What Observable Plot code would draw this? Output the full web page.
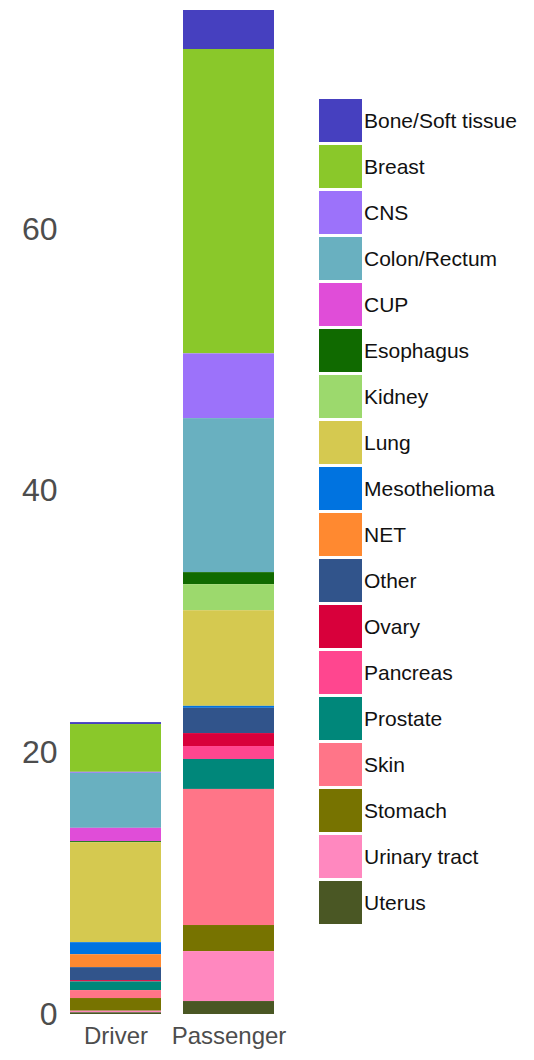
<!DOCTYPE html>
<html>
<head>
<meta charset="utf-8">
<script src="https://cdn.jsdelivr.net/npm/d3@7"></script>
<script src="https://cdn.jsdelivr.net/npm/@observablehq/plot@0.6"></script>
<style>
  html, body { margin: 0; padding: 0; background: #fff; }
  #wrap { position: relative; width: 534px; height: 1060px; font-family: "Liberation Sans", Arial, sans-serif; }
  #legend { position: absolute; left: 319px; top: 99px; }
  .row { display: flex; align-items: center; height: 43px; margin-bottom: 3px; }
  .sw { width: 43px; height: 43px; flex: none; }
  .lab { margin-left: 2px; font-size: 21px; color: #111; white-space: nowrap; }
</style>
</head>
<body>
<div id="wrap"><div id="chart"></div><div id="legend"></div></div>
<script>
const categories = ["Bone/Soft tissue","Breast","CNS","Colon/Rectum","CUP","Esophagus","Kidney","Lung","Mesothelioma","NET","Other","Ovary","Pancreas","Prostate","Skin","Stomach","Urinary tract","Uterus"];
const colors = ["#4640BF","#8AC82A","#9C72FA","#69B0C0","#E04DD8","#106A00","#9CD96D","#D5C950","#0073E0","#FF8930","#31548B","#D8003B","#FF468F","#00877A","#FF7588","#777300","#FF88BF","#4A5724"];
const groups = ["Driver","Passenger"];
const driverValues =    [0.15, 3.65, 0.08, 4.20, 1.02, 0.08, 0.00, 7.64, 0.92, 0.99, 0.99, 0.10, 0.00, 0.66, 0.61, 0.97, 0.12, 0.13];
const passengerValues = [2.98, 23.26, 4.95, 11.77, 0.00, 0.92, 1.99, 7.31, 0.15, 0.00, 1.93, 0.99, 0.99, 2.29, 10.40, 1.99, 3.82, 0.99];
const yTicks = [0, 20, 40, 60];

const data = [];
categories.forEach((c, i) => {
  data.push({group: groups[0], category: c, value: driverValues[i]});
  data.push({group: groups[1], category: c, value: passengerValues[i]});
});
const maxTotal = d3.max([d3.sum(driverValues), d3.sum(passengerValues)]);

const chart = Plot.plot({
  width: 534,
  height: 1060,
  marginTop: 10,
  marginBottom: 46,
  marginLeft: 62,
  marginRight: 252,
  style: {fontFamily: "Liberation Sans, Arial, sans-serif", background: "#fff"},
  x: {domain: groups, paddingInner: 0.195, paddingOuter: 0.07, label: null},
  y: {domain: [0, maxTotal], label: null},
  color: {domain: categories, range: colors},
  marks: [
    Plot.barY(data, {x: "group", y: "value", fill: "category", order: categories.slice().reverse()}),
    Plot.axisY({ticks: yTicks, tickSize: 0, tickPadding: 5, fontSize: 32, fill: "#4D4D4D", label: null}),
    Plot.axisX({tickSize: 0, tickPadding: 12, fontSize: 24, fill: "#4D4D4D", label: null})
  ]
});
document.getElementById("chart").appendChild(chart);

const legend = document.getElementById("legend");
categories.forEach((c, i) => {
  const row = document.createElement("div");
  row.className = "row";
  const sw = document.createElement("div");
  sw.className = "sw";
  sw.style.background = colors[i];
  const lab = document.createElement("span");
  lab.className = "lab";
  lab.textContent = c;
  row.appendChild(sw);
  row.appendChild(lab);
  legend.appendChild(row);
});
</script>
</body>
</html>
